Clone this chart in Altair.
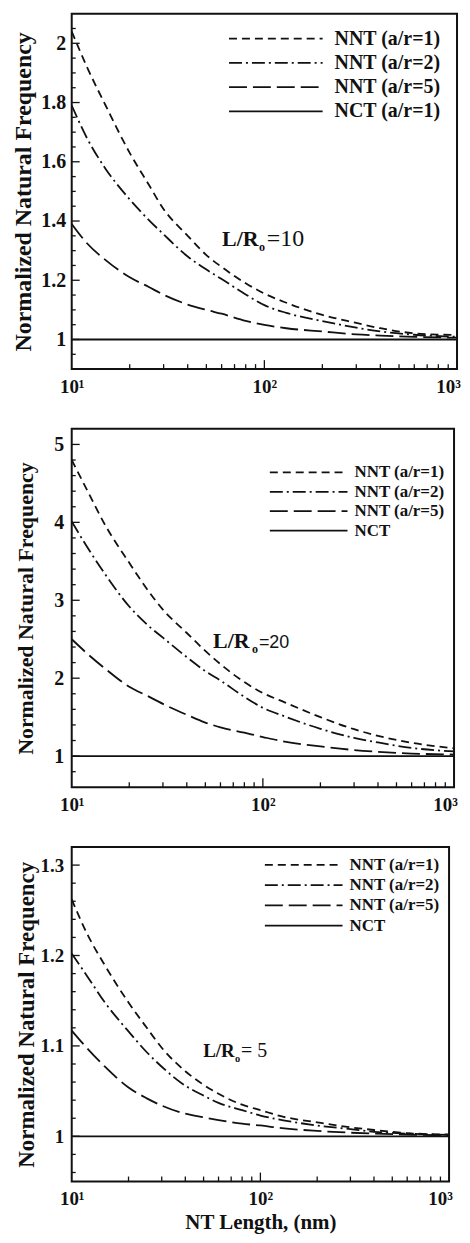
import altair as alt
import pandas as pd

# ---------------- data ----------------
NT_LENGTH = [10, 12, 15, 20, 25, 30, 40, 50, 60, 80, 100, 130, 200, 300, 400, 600, 1000]

# Panel 1: L/Ro = 10
P1_NNT_AR1 = [2.04, 1.92, 1.79, 1.63, 1.525, 1.44, 1.35, 1.285, 1.245, 1.19, 1.155, 1.124, 1.083, 1.056, 1.038, 1.021, 1.015]
P1_NNT_AR2 = [1.79, 1.68, 1.576, 1.473, 1.405, 1.355, 1.28, 1.236, 1.204, 1.152, 1.116, 1.09, 1.062, 1.04, 1.027, 1.016, 1.009]
P1_NNT_AR5 = [1.39, 1.325, 1.268, 1.21, 1.178, 1.151, 1.118, 1.10, 1.087, 1.063, 1.049, 1.038, 1.027, 1.017, 1.013, 1.009, 1.006]
P1_NCT = [1, 1, 1, 1, 1, 1, 1, 1, 1, 1, 1, 1, 1, 1, 1, 1, 1]

# Panel 2: L/Ro = 20
P2_NNT_AR1 = [4.80, 4.42, 3.96, 3.48, 3.13, 2.88, 2.58, 2.35, 2.18, 1.95, 1.81, 1.69, 1.50, 1.345, 1.26, 1.17, 1.10]
P2_NNT_AR2 = [4.01, 3.69, 3.33, 2.92, 2.68, 2.52, 2.27, 2.09, 1.97, 1.76, 1.62, 1.51, 1.35, 1.235, 1.175, 1.105, 1.06]
P2_NNT_AR5 = [2.50, 2.32, 2.12, 1.89, 1.77, 1.67, 1.53, 1.43, 1.37, 1.30, 1.245, 1.185, 1.125, 1.078, 1.055, 1.033, 1.02]
P2_NCT = [1, 1, 1, 1, 1, 1, 1, 1, 1, 1, 1, 1, 1, 1, 1, 1, 1]

# Panel 3: L/Ro = 5
P3_NNT_AR1 = [1.262, 1.225, 1.189, 1.148, 1.12, 1.098, 1.072, 1.057, 1.047, 1.035, 1.029, 1.022, 1.0155, 1.010, 1.007, 1.0035, 1.002]
P3_NNT_AR2 = [1.202, 1.178, 1.148, 1.116, 1.093, 1.077, 1.056, 1.045, 1.037, 1.029, 1.023, 1.018, 1.012, 1.008, 1.005, 1.003, 1.0015]
P3_NNT_AR5 = [1.117, 1.098, 1.077, 1.054, 1.042, 1.034, 1.025, 1.021, 1.018, 1.014, 1.012, 1.009, 1.006, 1.004, 1.003, 1.002, 1.001]
P3_NCT = [1, 1, 1, 1, 1, 1, 1, 1, 1, 1, 1, 1, 1, 1, 1, 1, 1]

P1_LABELS = ["NNT (a/r=1)", "NNT (a/r=2)", "NNT (a/r=5)", "NCT (a/r=1)"]
P2_LABELS = ["NNT (a/r=1)", "NNT (a/r=2)", "NNT (a/r=5)", "NCT"]
P3_LABELS = ["NNT (a/r=1)", "NNT (a/r=2)", "NNT (a/r=5)", "NCT"]

ANNOT_VALUES = ["=10", "=20", "= 5"]

X_TICK_VALUES = [10, 100, 1000]
X_TICK_LABELS = ["10¹", "10²", "10³"]
X_MAJOR_INNER = [100]
X_MINOR = [20, 30, 40, 50, 60, 70, 80, 90, 200, 300, 400, 500, 600, 700, 800, 900]

P1_Y_MAJOR = [1, 1.2, 1.4, 1.6, 1.8, 2]
P1_Y_MINOR = [0.95, 1.05, 1.1, 1.15, 1.25, 1.3, 1.35, 1.45, 1.5, 1.55, 1.65, 1.7, 1.75, 1.85, 1.9, 1.95, 2.05]
P2_Y_MAJOR = [1, 2, 3, 4, 5]
P2_Y_MINOR = [0.8, 1.2, 1.4, 1.6, 1.8, 2.2, 2.4, 2.6, 2.8, 3.2, 3.4, 3.6, 3.8, 4.2, 4.4, 4.6, 4.8]
P3_Y_MAJOR = [1, 1.1, 1.2, 1.3]
P3_Y_MINOR = [0.96, 0.98, 1.02, 1.04, 1.06, 1.08, 1.12, 1.14, 1.16, 1.18, 1.22, 1.24, 1.26, 1.28]

# ---------------- styling ----------------
SERIF = "Liberation Serif"
INK = "#111111"
DASHES = [[8, 5], [13, 4, 2, 4], [18, 6], [1, 0]]
Y_TITLE = "Normalized Natural Frequency"

label_expr = " : ".join(
    f"datum.value == {v} ? '{t}'" for v, t in zip(X_TICK_VALUES[:-1], X_TICK_LABELS[:-1])
) + f" : '{X_TICK_LABELS[-1]}'"
# pull the rightmost label slightly inward so it stays on the page
last_label_offset = {"condition": {"test": f"datum.value == {X_TICK_VALUES[-1]}", "value": -9}, "value": 0}


def text(s, x, y, size, weight="bold", font=SERIF, baseline="alphabetic"):
    return alt.Chart(pd.DataFrame({"t": [s]})).mark_text(
        align="left", baseline=baseline, fontSize=size, fontWeight=weight, font=font, color=INK
    ).encode(text="t:N", x=alt.value(x), y=alt.value(y))


def panel(series, labels, y_domain, y_major, y_minor, width, height, yax, xax, leg, ann, xtitle=None):
    rows = []
    for lab, vals in zip(labels, series):
        for x, v in zip(NT_LENGTH, vals):
            rows.append({"length": x, "freq": v, "series": lab})
    df = pd.DataFrame(rows)

    xscale = alt.Scale(type="log", domain=[10, 1000], nice=False)
    yscale = alt.Scale(domain=y_domain, nice=False, zero=False)

    x_axis = alt.Axis(
        values=X_TICK_VALUES, labelExpr=label_expr, ticks=False, domain=False, grid=False,
        labelFont=SERIF, labelFontWeight="bold", labelFontSize=xax["font"], labelColor=INK,
        labelPadding=xax["pad"], labelFlush=False, labelOverlap=False, labelOffset=last_label_offset,
        titleFont=SERIF, titleFontWeight="bold", titleFontSize=21, titleColor=INK, titlePadding=3,
    )
    y_axis = alt.Axis(
        values=y_major, format="~g", ticks=False, domain=False, grid=False,
        labelFont=SERIF, labelFontWeight="bold", labelFontSize=yax["font"], labelColor=INK,
        labelPadding=yax["pad"], labelFlush=False, labelOverlap=False,
        titleFont=SERIF, titleFontWeight="bold", titleFontSize=yax["tfont"], titleColor=INK,
        titlePadding=yax["tpad"],
    )

    lines = alt.Chart(df).mark_line(color=INK, strokeWidth=1.8, clip=True, interpolate="monotone").encode(
        x=alt.X("length:Q", scale=xscale, axis=x_axis, title=xtitle),
        y=alt.Y("freq:Q", scale=yscale, axis=y_axis, title=Y_TITLE),
        strokeDash=alt.StrokeDash("series:N", scale=alt.Scale(domain=labels, range=DASHES), legend=None),
    )

    def yticks(vals, length):
        return alt.Chart(pd.DataFrame({"v": vals})).mark_rule(color=INK, strokeWidth=1.3).encode(
            y=alt.Y("v:Q", scale=yscale, axis=y_axis, title=Y_TITLE), x=alt.value(0), x2=alt.value(length))

    def xticks(vals, length):
        return alt.Chart(pd.DataFrame({"v": vals})).mark_rule(color=INK, strokeWidth=1.3).encode(
            x=alt.X("v:Q", scale=xscale, axis=x_axis, title=xtitle), y=alt.value(height), y2=alt.value(height - length))

    # legend drawn as sample strokes + labels inside the frame
    legend_layers = []
    for i, (lab, dash) in enumerate(zip(labels, DASHES)):
        yy = leg["y"] + i * leg["dy"]
        legend_layers.append(
            alt.Chart(pd.DataFrame({"t": [lab]})).mark_rule(color=INK, strokeWidth=1.8, strokeDash=dash).encode(
                x=alt.value(leg["x"]), x2=alt.value(leg["x"] + leg["length"]), y=alt.value(yy))
        )
        legend_layers.append(text(lab, leg["x"] + leg["length"] + leg["gap"], yy, leg["font"], baseline="middle"))

    texts = [
        text("L/R", ann["x"], ann["y"], ann["size"]),
        text("o", ann["ox"], ann["y"] + 5, ann["size"] * 0.55),
        text(ann["value"], ann["vx"], ann["y"], ann["vsize"], ann["vweight"], ann["vfont"]),
    ]

    return alt.layer(
        lines, yticks(y_major, 8), yticks(y_minor, 4), xticks(X_MAJOR_INNER, 9), xticks(X_MINOR, 5),
        *legend_layers, *texts
    ).properties(width=width, height=height)


p1 = panel(
    [P1_NNT_AR1, P1_NNT_AR2, P1_NNT_AR5, P1_NCT], P1_LABELS, [0.9, 2.1], P1_Y_MAJOR, P1_Y_MINOR, 387, 357,
    yax={"font": 20, "pad": 6, "tfont": 24, "tpad": 5},
    xax={"font": 19, "pad": 8},
    leg={"x": 158, "y": 25, "dy": 24.4, "length": 94, "font": 20, "gap": 12},
    ann={"x": 151, "ox": 188, "vx": 196, "y": 233, "size": 22, "value": ANNOT_VALUES[0],
         "vsize": 24, "vweight": "normal", "vfont": SERIF},
)
p2 = panel(
    [P2_NNT_AR1, P2_NNT_AR2, P2_NNT_AR5, P2_NCT], P2_LABELS, [0.6, 5.2], P2_Y_MAJOR, P2_Y_MINOR, 384, 360,
    yax={"font": 20, "pad": 8, "tfont": 22, "tpad": 16},
    xax={"font": 19, "pad": 8},
    leg={"x": 199, "y": 43.7, "dy": 19.5, "length": 78, "font": 17, "gap": 7},
    ann={"x": 142, "ox": 181, "vx": 188, "y": 220, "size": 22, "value": ANNOT_VALUES[1],
         "vsize": 18, "vweight": "normal", "vfont": "Liberation Sans"},
)
p3 = panel(
    [P3_NNT_AR1, P3_NNT_AR2, P3_NNT_AR5, P3_NCT], P3_LABELS, [0.95, 1.32], P3_Y_MAJOR, P3_Y_MINOR, 379, 336,
    yax={"font": 19, "pad": 8, "tfont": 23, "tpad": 2},
    xax={"font": 19, "pad": 8},
    leg={"x": 194, "y": 18, "dy": 20.3, "length": 78, "font": 17, "gap": 7},
    ann={"x": 132, "ox": 164, "vx": 170, "y": 211, "size": 19, "value": ANNOT_VALUES[2],
         "vsize": 20, "vweight": "normal", "vfont": SERIF},
    xtitle="NT Length, (nm)",
)

chart = alt.vconcat(p1, p2, p3, spacing=31).resolve_scale(
    x="independent", y="independent", strokeDash="independent"
).properties(
    padding={"left": 3, "top": 2, "right": 0, "bottom": 0}, background="white"
).configure_view(stroke=INK, strokeWidth=2)

chart.save("out.html", embed_options={"renderer": "svg", "actions": False})
